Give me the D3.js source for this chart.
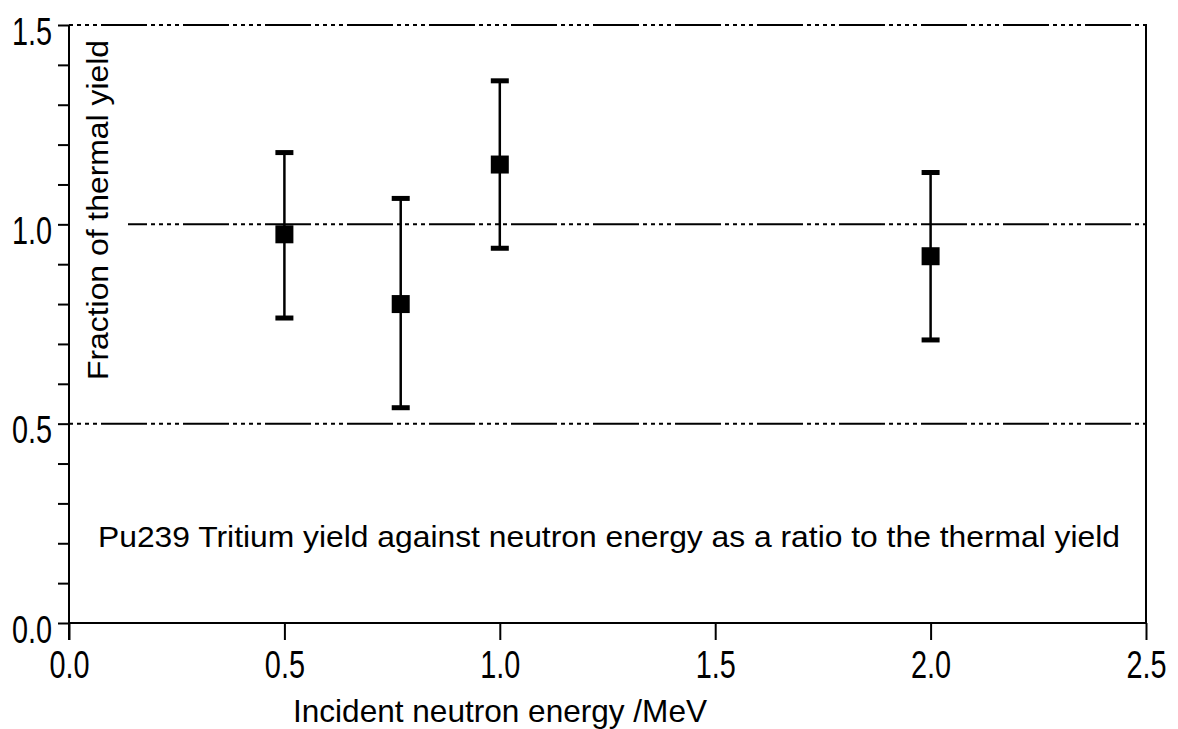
<!DOCTYPE html>
<html>
<head>
<meta charset="utf-8">
<script src="https://cdn.jsdelivr.net/npm/d3@7"></script>
<style>
  html, body { margin: 0; padding: 0; background: #fff; }
  svg { display: block; }
  text { font-family: "Liberation Sans", Arial, sans-serif; fill: #000; }
</style>
</head>
<body>
<svg id="chart" width="1178" height="729"></svg>
<script>
// Pu239 tritium yield relative to thermal yield
const energy   = [0.5, 0.77, 1.0, 2.0];      // MeV
const ratio    = [0.975, 0.80, 1.15, 0.92];  // fraction of thermal yield
const errUpper = [1.18, 1.065, 1.36, 1.13];
const errLower = [0.765, 0.54, 0.94, 0.71];

const xTicks = [0.0, 0.5, 1.0, 1.5, 2.0, 2.5];
const yMajorTicks = [0.0, 0.5, 1.0, 1.5];
const yMinorTicks = d3.range(0, 16).map(i => i / 10);
const gridValues = [0.5, 1.0, 1.5];

const xTitle = "Incident neutron energy /MeV";
const yTitle = "Fraction of thermal yield";
const note = "Pu239 Tritium yield against neutron energy as a ratio to the thermal yield";

const svg = d3.select("#chart");
const plotLeft = 69, plotRight = 1146, plotTop = 25, plotBottom = 623;

const x = d3.scaleLinear().domain([0, 2.5]).range([plotLeft, plotRight]);
const y = d3.scaleLinear().domain([0, 1.5]).range([plotBottom, plotTop]);

const fmt = d3.format(".1f");
const dash = "4,4,4,4,4,4,4,4,46,4";

// dash-dot gridlines
svg.append("g")
  .selectAll("line")
  .data(gridValues)
  .join("line")
  .attr("x1", x(0)).attr("x2", x(2.5))
  .attr("y1", d => y(d)).attr("y2", d => y(d))
  .attr("stroke", "#000")
  .attr("stroke-width", 2)
  .attr("stroke-dasharray", dash);

// right frame edge
svg.append("line")
  .attr("x1", x(2.5)).attr("x2", x(2.5))
  .attr("y1", y(1.5) - 1).attr("y2", y(0))
  .attr("stroke", "#000").attr("stroke-width", 2);

// y axis: ticks every 0.1, labels every 0.5
const yAxis = d3.axisLeft(y)
  .tickValues(yMinorTicks)
  .tickSize(11)
  .tickFormat(d => yMajorTicks.some(m => Math.abs(m - d) < 1e-9) ? fmt(d) : "");
const gy = svg.append("g").attr("transform", `translate(${plotLeft},0)`).call(yAxis);
gy.select(".domain").attr("stroke-width", 2).attr("d", `M0,${plotTop}V${plotBottom + 17}`);
gy.selectAll(".tick line").attr("stroke-width", 2);
gy.selectAll(".tick text")
  .attr("x", null).attr("dy", null)
  .attr("font-size", 39)
  .attr("text-anchor", "end")
  .attr("transform", "translate(-17,19) scale(0.74,1)")
  .style("font-family", "'Liberation Sans', Arial, sans-serif");

// x axis: ticks every 0.5 pointing down
const xAxis = d3.axisBottom(x)
  .tickValues(xTicks)
  .tickSize(17)
  .tickFormat(fmt);
const gx = svg.append("g").attr("transform", `translate(0,${plotBottom})`).call(xAxis);
gx.select(".domain").attr("stroke-width", 2).attr("d", `M${plotLeft},0H${plotRight}`);
gx.selectAll(".tick line").attr("stroke-width", 2);
gx.selectAll(".tick text")
  .attr("y", null).attr("dy", null)
  .attr("font-size", 39)
  .attr("text-anchor", "middle")
  .attr("transform", "translate(0,55) scale(0.74,1)")
  .style("font-family", "'Liberation Sans', Arial, sans-serif");

// y title on a white panel
svg.append("rect")
  .attr("x", plotLeft + 1).attr("y", 32)
  .attr("width", 58).attr("height", 360)
  .attr("fill", "#fff");
svg.append("text")
  .attr("transform", "translate(108,380) rotate(-90)")
  .attr("font-size", 30)
  .attr("textLength", 340)
  .attr("lengthAdjust", "spacingAndGlyphs")
  .text(yTitle);

// x title
svg.append("text")
  .attr("x", 293).attr("y", 722)
  .attr("font-size", 32)
  .attr("textLength", 414)
  .attr("lengthAdjust", "spacingAndGlyphs")
  .text(xTitle);

// annotation
svg.append("text")
  .attr("x", 98).attr("y", 547)
  .attr("font-size", 30)
  .attr("textLength", 1022)
  .attr("lengthAdjust", "spacingAndGlyphs")
  .text(note);

// error bars and markers
const pts = energy.map((e, i) => ({ e, v: ratio[i], hi: errUpper[i], lo: errLower[i] }));
const g = svg.append("g");
g.selectAll("line.err")
  .data(pts).join("line").attr("class", "err")
  .attr("x1", d => x(d.e)).attr("x2", d => x(d.e))
  .attr("y1", d => y(d.hi)).attr("y2", d => y(d.lo))
  .attr("stroke", "#000").attr("stroke-width", 2.5);
const capW = 18, capH = 5;
g.selectAll("rect.cap-hi")
  .data(pts).join("rect").attr("class", "cap-hi")
  .attr("x", d => x(d.e) - capW / 2).attr("y", d => y(d.hi) - capH / 2)
  .attr("width", capW).attr("height", capH).attr("fill", "#000");
g.selectAll("rect.cap-lo")
  .data(pts).join("rect").attr("class", "cap-lo")
  .attr("x", d => x(d.e) - capW / 2).attr("y", d => y(d.lo) - capH / 2)
  .attr("width", capW).attr("height", capH).attr("fill", "#000");
const sq = 18;
g.selectAll("rect.mark")
  .data(pts).join("rect").attr("class", "mark")
  .attr("x", d => x(d.e) - sq / 2).attr("y", d => y(d.v) - sq / 2)
  .attr("width", sq).attr("height", sq).attr("fill", "#000");
</script>
</body>
</html>
